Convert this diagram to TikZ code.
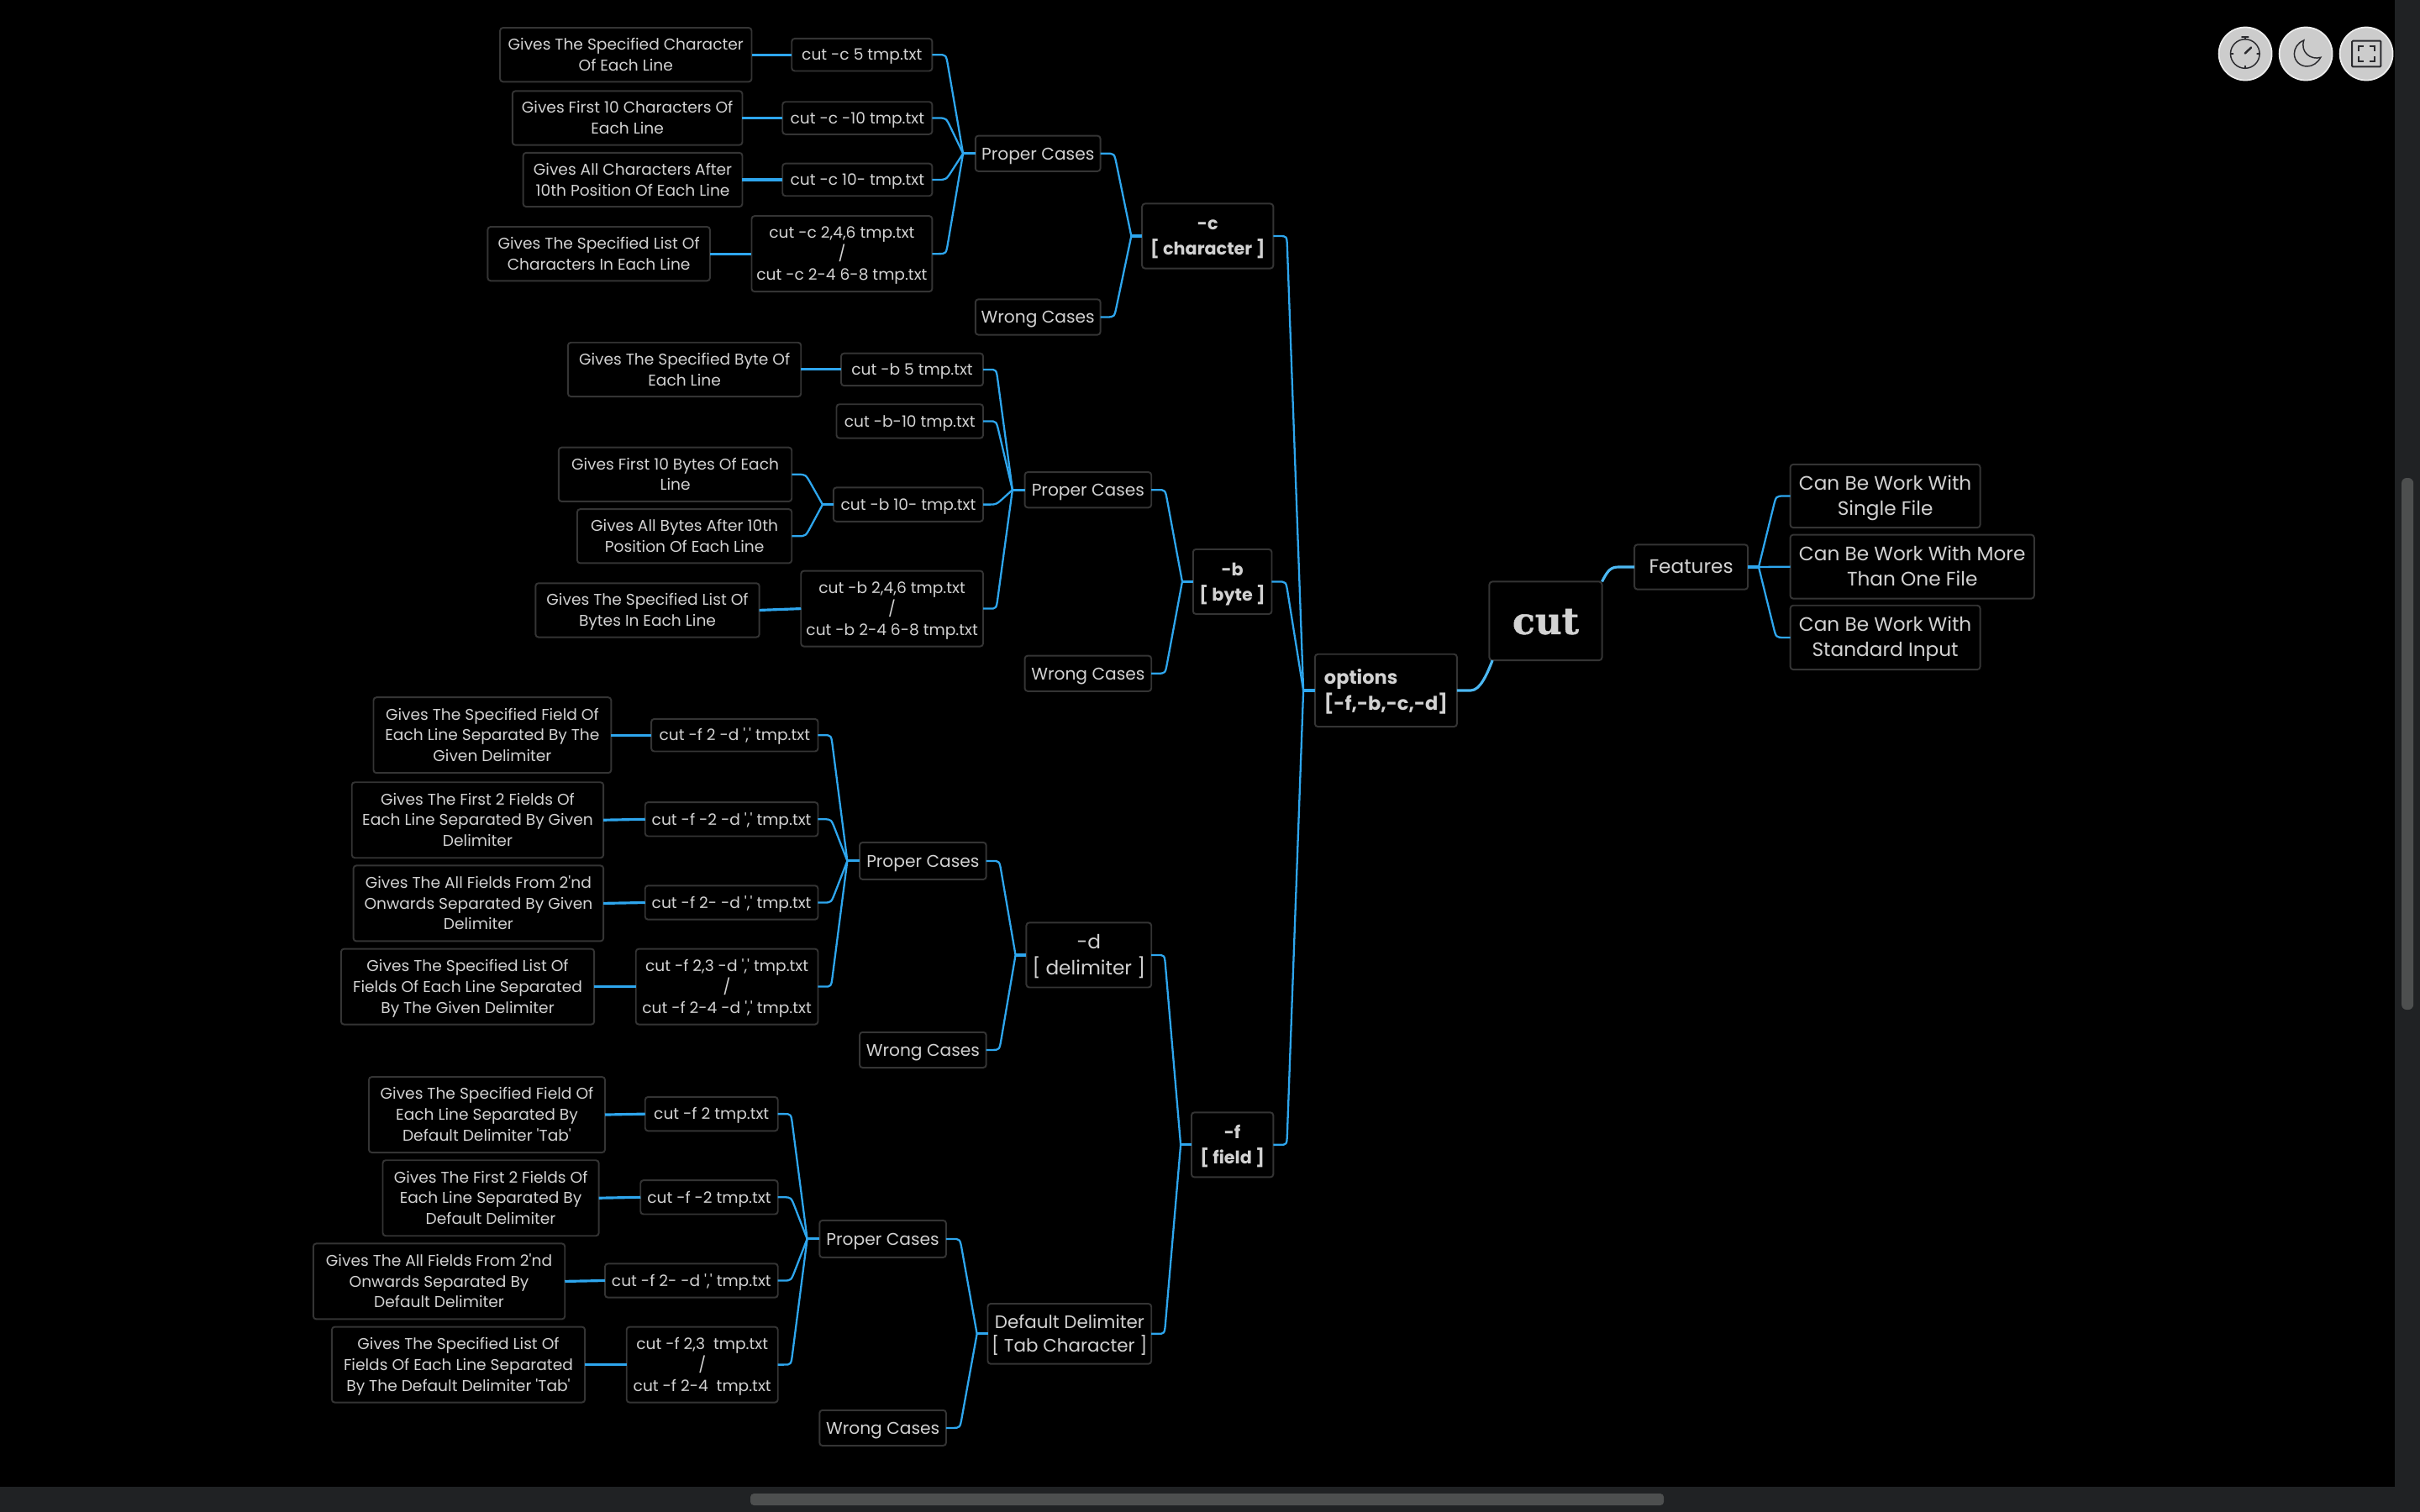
\documentclass[tikz,border=0pt]{standalone}
\usepackage{fontspec}
\usetikzlibrary{calc}
\newfontfamily\mm{Poppins}
\newfontfamily\slabf[BoldFeatures={FakeBold=1.2}]{DejaVu Serif}
\definecolor{lnkc}{HTML}{2EA6EE}
\definecolor{lnkd}{HTML}{4CB8F2}
\definecolor{bdc}{HTML}{343434}
\definecolor{txc}{HTML}{D2D2D2}
\definecolor{barc}{HTML}{202224}
\definecolor{thumbc}{HTML}{4D4F4F}
\definecolor{icn}{HTML}{2A2A2E}
\def\txs{.5pt}
\tikzset{
  box/.style={draw=bdc,line width=.55pt,fill=black,rounded corners=1pt,inner sep=0pt,outer sep=0pt,text=txc},
  small/.style={font=\mm\fontsize{5.3}{7.05}\selectfont},
  mid/.style={font=\mm\fontsize{5.75}{7.9}\selectfont},
  dflt/.style={font=\mm\fontsize{6.1}{7.9}\selectfont},
  big/.style={font=\mm\fontsize{6.6}{8.6}\selectfont},
  bld/.style={font=\mm\bfseries\fontsize{5.9}{8.5}\selectfont},
  optf/.style={font=\mm\bfseries\fontsize{6.4}{9}\selectfont},
  cutf/.style={font=\slabf\bfseries\fontsize{12.5}{14}\selectfont,execute at begin node={\def\txs{1.6pt}}},
  thinl/.style={draw=lnkc,line width=.65pt},
  thickl/.style={draw=lnkc,line width=.9pt},
  dsp/.style={draw=lnkd,line width=.9pt},
  chrome/.style={draw=icn,line width=.42pt,line cap=round},
}
\newcommand\lft[1]{\multicolumn{1}{@{}l@{}}{#1}}
\newcommand\bx[7]{%
  \pgfmathsetmacro\bxw{(#4-#2)*0.520408}%
  \pgfmathsetmacro\bxh{(#5-#3)*0.520408}%
  \node[box,#6,minimum width=\bxw bp,minimum height=\bxh bp] (#1) at ({(#2+#4)/2},{(#3+#5)/2}) {\raisebox{-\txs}[\height][\depth]{\begin{tabular}{@{}c@{}}#7\end{tabular}}};}
\newcommand\cv[2]{%
  \coordinate (cvc) at ($(#1)!.45!(#1 -| #2)$);%
  \coordinate (cvs) at ($(#1)!.2!(#1 -| #2)$);%
  \coordinate (cve) at ($(cvc)!1.3mm!(#2)$);%
  \draw[thinl] (#1) -- (cvs) .. controls (cvc) .. (cve) -- (#2);%
}
\newcommand\hb[3]{% hub name, node anchor, offset
  \coordinate (#1) at ($(#2)+(#3,0)$);%
  \draw[thickl] (#2) -- (#1);}
\newcommand\st[2]{\draw[thickl] (#1) -- (#2);}
\begin{document}
\begin{tikzpicture}[x=0.520408bp,y=-0.520408bp]
\useasboundingbox (0,0) rectangle (1568,980);
\fill[black] (-5,-5) rectangle (1575,985);
% -c
\bx{ca}{324}{18}{487}{53}{small}{Gives The Specified Character\\Of Each Line}
\bx{cb}{332}{59}{481}{94}{small}{Gives First 10 Characters Of\\Each Line}
\bx{cd}{339}{99}{481}{134}{small}{Gives All Characters After\\10th Position Of Each Line}
\bx{ce}{316}{147}{460}{182}{small}{Gives The Specified List Of\\Characters In Each Line}
\bx{ka}{513}{25}{604}{46}{small}{cut -c 5 tmp.txt}
\bx{kb}{507}{66}{604}{87}{small}{cut -c -10 tmp.txt}
\bx{kd}{507}{106}{604}{127}{small}{cut -c 10- tmp.txt}
\bx{ke}{487}{140}{604}{189}{small}{cut -c 2,4,6 tmp.txt\\/\\cut -c 2-4 6-8 tmp.txt}
\bx{cp}{632}{88}{713}{111}{mid}{Proper Cases}
\bx{cw}{632}{194}{713}{217}{mid}{Wrong Cases}
\bx{cn}{740}{132}{825}{174}{bld}{-c\\{[} character ]}
% -b
\bx{ba}{368}{222}{519}{257}{small}{Gives The Specified Byte Of\\Each Line}
\bx{bc}{362}{290}{513}{325}{small}{Gives First 10 Bytes Of Each\\Line}
\bx{bd}{374}{330}{513}{365}{small}{Gives All Bytes After 10th\\Position Of Each Line}
\bx{be}{347}{378}{492}{413}{small}{Gives The Specified List Of\\Bytes In Each Line}
\bx{ma}{545}{229}{637}{250}{small}{cut -b 5 tmp.txt}
\bx{mb}{542}{262}{637}{284}{small}{cut -b-10 tmp.txt}
\bx{mc}{540}{316}{637}{338}{small}{cut -b 10- tmp.txt}
\bx{me}{519}{370}{637}{419}{small}{cut -b 2,4,6 tmp.txt\\/\\cut -b 2-4 6-8 tmp.txt}
\bx{bp}{664}{306}{746}{329}{mid}{Proper Cases}
\bx{bw}{664}{425}{746}{448}{mid}{Wrong Cases}
\bx{bn}{773}{356}{824}{398}{bld}{-b\\{[} byte ]}
% -d
\bx{da}{242}{452}{396}{501}{small}{Gives The Specified Field Of\\Each Line Separated By The\\Given Delimiter}
\bx{db}{228}{507}{391}{556}{small}{Gives The First 2 Fields Of\\Each Line Separated By Given\\Delimiter}
\bx{dc}{229}{561}{391}{610}{small}{Gives The All Fields From 2'nd\\Onwards Separated By Given\\Delimiter}
\bx{dd}{221}{615}{385}{664}{small}{Gives The Specified List Of\\Fields Of Each Line Separated\\By The Given Delimiter}
\bx{na}{422}{466}{530}{487}{small}{cut -f 2 -d ',' tmp.txt}
\bx{nb}{418}{520}{530}{542}{small}{cut -f -2 -d ',' tmp.txt}
\bx{nc}{418}{574}{530}{596}{small}{cut -f 2- -d ',' tmp.txt}
\bx{nd}{412}{615}{530}{664}{small}{cut -f 2,3 -d ',' tmp.txt\\/\\cut -f 2-4 -d ',' tmp.txt}
\bx{dp}{557}{546}{639}{570}{mid}{Proper Cases}
\bx{dw}{557}{669}{639}{692}{mid}{Wrong Cases}
\bx{dn}{665}{598}{746}{640}{big}{-d\\{[} delimiter ]}
% default
\bx{ea}{239}{698}{392}{747}{small}{Gives The Specified Field Of\\Each Line Separated By\\Default Delimiter 'Tab'}
\bx{eb}{248}{752}{388}{801}{small}{Gives The First 2 Fields Of\\Each Line Separated By\\Default Delimiter}
\bx{ec}{203}{806}{366}{855}{small}{Gives The All Fields From 2'nd\\Onwards Separated By\\Default Delimiter}
\bx{ed}{215}{860}{379}{909}{small}{Gives The Specified List Of\\Fields Of Each Line Separated\\By The Default Delimiter 'Tab'}
\bx{ga}{418}{711}{504}{733}{small}{cut -f 2 tmp.txt}
\bx{gb}{415}{765}{504}{787}{small}{cut -f -2 tmp.txt}
\bx{gc}{392}{819}{504}{841}{small}{cut -f 2- -d ',' tmp.txt}
\bx{gd}{406}{860}{504}{909}{small}{cut -f 2,3\ \ tmp.txt\\/\\cut -f 2-4\ \ tmp.txt}
\bx{ep}{531}{791}{613}{815}{mid}{Proper Cases}
\bx{ew}{531}{914}{613}{937}{mid}{Wrong Cases}
\bx{en}{640}{845}{746}{884}{dflt}{Default Delimiter\\{[} Tab Character ]}
\bx{fn}{772}{721}{825}{763}{bld}{-f\\{[} field ]}
% centre
\bx{op}{852}{424}{944}{471}{optf}{\lft{options}\\\lft{{[}-f,-b,-c,-d]}}
\bx{cut}{965}{377}{1038}{428}{cutf}{cut}
\bx{fe}{1059}{353}{1132.5}{382}{big}{Features}
\bx{fa}{1160}{301}{1283}{342}{big}{Can Be Work With\\Single File}
\bx{fb}{1160}{346.6}{1318}{388}{big}{Can Be Work With More\\Than One File}
\bx{fc}{1160}{392.4}{1283}{434}{big}{Can Be Work With\\Standard Input}
% leaf to command
\st{ca.east}{ka.west} \st{cb.east}{kb.west} \st{cd.east}{kd.west} \st{ce.east}{ke.west}
\st{ba.east}{ma.west} \st{be.east}{me.west}
\st{da.east}{na.west} \st{db.east}{nb.west} \st{dc.east}{nc.west} \st{dd.east}{nd.west}
\st{ea.east}{ga.west} \st{eb.east}{gb.west} \st{ec.east}{gc.west} \st{ed.east}{gd.west}
% hubs
\hb{hcp}{cp.west}{-8}
\cv{ka.east}{hcp} \cv{kb.east}{hcp} \cv{kd.east}{hcp} \cv{ke.east}{hcp}
\hb{hcn}{cn.west}{-7}
\cv{cp.east}{hcn} \cv{cw.east}{hcn}
\hb{hmc}{mc.west}{-7}
\cv{bc.east}{hmc} \cv{bd.east}{hmc}
\hb{hbp}{bp.west}{-8}
\cv{ma.east}{hbp} \cv{mb.east}{hbp} \cv{mc.east}{hbp} \cv{me.east}{hbp}
\hb{hbn}{bn.west}{-7}
\cv{bp.east}{hbn} \cv{bw.east}{hbn}
\hb{hdp}{dp.west}{-8}
\cv{na.east}{hdp} \cv{nb.east}{hdp} \cv{nc.east}{hdp} \cv{nd.east}{hdp}
\hb{hdn}{dn.west}{-7}
\cv{dp.east}{hdn} \cv{dw.east}{hdn}
\hb{hep}{ep.west}{-8}
\cv{ga.east}{hep} \cv{gb.east}{hep} \cv{gc.east}{hep} \cv{gd.east}{hep}
\hb{hen}{en.west}{-7}
\cv{ep.east}{hen} \cv{ew.east}{hen}
\hb{hfn}{fn.west}{-7}
\cv{dn.east}{hfn} \cv{en.east}{hfn}
\hb{hop}{op.west}{-7.5}
\cv{cn.east}{hop} \cv{bn.east}{hop} \cv{fn.east}{hop}
\hb{hfe}{fe.east}{7}
\cv{fa.west}{hfe} \cv{fc.west}{hfe}
\draw[thinl] (hfe) -- (fb.west);
\coordinate (opm) at ($(op.east)+(9,0)$);
\draw[dsp] (op.east) -- (opm) .. controls ($(opm)+(6,0)$) and ($(cut.south west)+(-1.5,9)$) .. ($(cut.south west)+(2,0)$);
\coordinate (fel) at ($(fe.west)+(-10,0)$);
\draw[dsp] (cut.north east) .. controls ($(cut.north east)+(4,-8)$) and ($(fel)+(-5,0)$) .. (fel) -- (fe.west);
% page chrome, in reference pixels
\begin{scope}[x=0.283333bp,y=-0.283333bp]
\fill[barc] (2850,0) rectangle (2890,1810);
\fill[barc] (-10,1770) rectangle (2890,1810);
\fill[thumbc,rounded corners=1.2pt] (893,1778) rectangle (1980,1792);
\fill[thumbc,rounded corners=1.7pt] (2858,569) rectangle (2872,1202);
\foreach \cx in {2672,2744,2816}{
  \draw[fill=black!20,draw=black!7,line width=.5pt] (\cx,64) circle[radius=31.5];
}
% stopwatch
\draw[chrome] (2671.7,64) circle[radius=17.3];
\draw[chrome] (2671.7,46.7) -- (2671.7,44);
\draw[chrome,line width=.6pt] (2668,44) -- (2675.5,44);
\draw[chrome] (2654.4,64) -- (2657.5,64) (2689,64) -- (2686,64) (2671.7,81.3) -- (2671.7,78.5);
\draw[chrome,line width=.7pt] (2671.7,63.5) -- (2679,56.5);
% moon
\draw[chrome] (2741.7,48) .. controls (2734,51) and (2730.3,58) .. (2730.3,64) .. controls (2730.3,72.5) and (2737,79) .. (2745.5,79) .. controls (2752,79) and (2758,75) .. (2761.7,68.3) .. controls (2750,72) and (2737,62) .. (2741.7,48) -- cycle;
% fullscreen
\draw[chrome,line width=.55pt,rounded corners=.3pt] (2799,48.7) rectangle (2833.3,79.3);
\draw[chrome,line width=.5pt,line cap=butt] (2806.7,61) -- (2806.7,55) -- (2813,55) (2819.5,55) -- (2825.7,55) -- (2825.7,61) (2825.7,67) -- (2825.7,72.7) -- (2819.5,72.7) (2813,72.7) -- (2806.7,72.7) -- (2806.7,67);
\end{scope}
\end{tikzpicture}
\end{document}
